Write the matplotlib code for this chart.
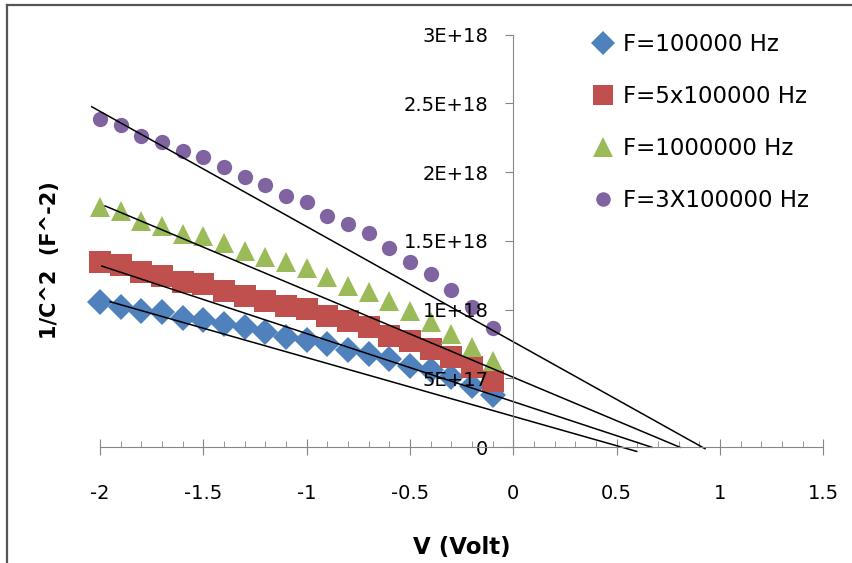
import matplotlib.pyplot as plt
import numpy as np
from matplotlib.lines import Line2D
from matplotlib.ticker import MultipleLocator

# === data (1/C^2 in units of 1E18) ===
volts = [-2.0, -1.9, -1.8, -1.7, -1.6, -1.5, -1.4, -1.3, -1.2, -1.1,
         -1.0, -0.9, -0.8, -0.7, -0.6, -0.5, -0.4, -0.3, -0.2, -0.1]
f_100k = [1.054, 1.022, 0.993, 0.981, 0.938, 0.925, 0.896, 0.872, 0.836, 0.804,
          0.780, 0.751, 0.707, 0.678, 0.642, 0.593, 0.562, 0.509, 0.448, 0.380]
f_500k = [1.344, 1.325, 1.272, 1.248, 1.199, 1.187, 1.139, 1.102, 1.066, 1.030,
          1.005, 0.957, 0.916, 0.872, 0.812, 0.775, 0.715, 0.654, 0.581, 0.484]
f_1m = [1.744, 1.715, 1.647, 1.611, 1.550, 1.538, 1.483, 1.429, 1.386, 1.344,
        1.301, 1.235, 1.175, 1.126, 1.066, 0.993, 0.908, 0.824, 0.727, 0.630]
f_300k = [2.386, 2.345, 2.265, 2.221, 2.156, 2.108, 2.035, 1.962, 1.907, 1.829,
          1.781, 1.684, 1.623, 1.555, 1.449, 1.349, 1.260, 1.143, 1.017, 0.867]
labels = ['F=100000 Hz', 'F=5x100000 Hz', 'F=1000000 Hz', 'F=3X100000 Hz']

# fitted straight lines: start point and x-intercept
fit_x0 = [-1.951, -1.991, -1.975, -2.040]
fit_y0 = [1.058, 1.317, 1.754, 2.475]
fit_x1 = [0.597, 0.670, 0.806, 0.927]
fit_y1 = [-0.03, 0.0, 0.0, -0.01]

y_ticks = [0, 0.5, 1.0, 1.5, 2.0, 2.5, 3.0]
y_tick_labels = ['0', '5E+17', '1E+18', '1.5E+18', '2E+18', '2.5E+18', '3E+18']
x_ticks = [-2, -1.5, -1, -0.5, 0, 0.5, 1, 1.5]
x_tick_labels = ['-2', '-1.5', '-1', '-0.5', '0', '0.5', '1', '1.5']

colors = ['#4F81BD', '#C0504D', '#9BBB59', '#8064A2']
markers = ['D', 's', '^', 'o']
msizes = [13, 15.5, 15, 11]
SCALE = 1e18

plt.rcParams['font.family'] = ['DejaVu Sans']

fig = plt.figure(figsize=(8.52, 5.63), dpi=100)
ax = fig.add_axes([100 / 852, 1 - 447.3 / 563, 723.4 / 852, 412.8 / 563])

series = [f_100k, f_500k, f_1m, f_300k]
handles = []
for vals, c, m, s, lab in zip(series, colors, markers, msizes, labels):
    h, = ax.plot(volts, np.array(vals) * SCALE, linestyle='none', marker=m,
                 markersize=s, color=c, markeredgewidth=0, label=lab,
                 clip_on=False, zorder=1.5)
    handles.append(h)

for x0, y0, x1, y1 in zip(fit_x0, fit_y0, fit_x1, fit_y1):
    ax.plot([x0, x1], [y0 * SCALE, y1 * SCALE], color='black', lw=1.1,
            clip_on=False, zorder=1.6)

ax.set_xlim(-2, 1.5)
ax.set_ylim(0, 3e18)

# excel-like axes crossing at zero
for sp in ['top', 'right']:
    ax.spines[sp].set_visible(False)
ax.spines['left'].set_position(('data', 0))
ax.spines['left'].set_color('#868686')
ax.spines['bottom'].set_color('#868686')

ax.set_xticks(x_ticks)
ax.set_xticklabels(x_tick_labels)
ax.xaxis.set_minor_locator(MultipleLocator(0.1))
ax.set_yticks([t * SCALE for t in y_ticks])
ax.set_yticklabels(y_tick_labels)

ax.tick_params(axis='x', which='major', direction='inout', length=11, color='#868686',
               labelsize=14, pad=21)
ax.tick_params(axis='x', which='minor', direction='in', length=4, color='#868686')
ax.tick_params(axis='y', which='major', direction='out', length=6, color='#868686',
               labelsize=14, pad=12)

ax.set_xlabel('V (Volt)', fontsize=16.5, fontweight='bold', labelpad=24)
fig.text(50 / 852, 1 - 260 / 563, '1/C^2  (F^-2)', rotation=90, fontsize=15,
         fontweight='bold', ha='center', va='center')

ax.legend(handles=handles, loc='upper left', bbox_to_anchor=(594 / 852, 1 - 33 / 563),
          bbox_transform=fig.transFigure, frameon=False, fontsize=16.5,
          labelspacing=1.27, handlelength=0.8, handletextpad=0.45, markerscale=0.95,
          borderaxespad=0, borderpad=0)

# outer chart border
fig.add_artist(Line2D([7 / 852, 7 / 852], [0, 1 - 5 / 563], transform=fig.transFigure,
                      color='#555555', lw=1.6))
fig.add_artist(Line2D([7 / 852, 1], [1 - 5 / 563, 1 - 5 / 563], transform=fig.transFigure,
                      color='#555555', lw=1.6))

fig.savefig('out.png', dpi=100)
